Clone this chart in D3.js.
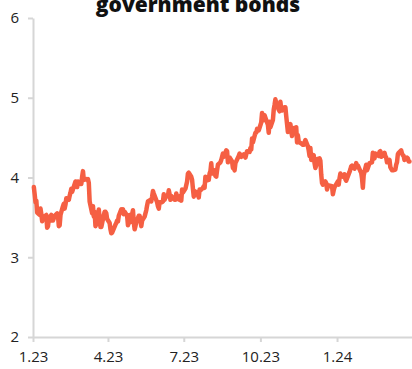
<!DOCTYPE html>
<html>
<head>
<meta charset="utf-8">
<script src="https://cdn.jsdelivr.net/npm/d3@7"></script>
<style>
  body { margin: 0; background: #fff; }
  svg { display: block; }
  .axis path, .axis line { stroke: #d6d6d6; stroke-width: 2; }
  .axis text { fill: #222; font-family: "Open Sans", sans-serif; font-size: 15px; }
</style>
</head>
<body>
<div id="chart"></div>
<script>
// yield data, one array per month (trading days + closes)
var months = ["2023-01", "2023-02", "2023-03", "2023-04", "2023-05", "2023-06", "2023-07", "2023-08",
              "2023-09", "2023-10", "2023-11", "2023-12", "2024-01", "2024-02", "2024-03"];

var days = [
  [2, 3, 4, 5, 6, 9, 10, 11, 12, 13, 17, 18, 19, 20, 23, 24, 25, 26, 27, 30, 31],
  [1, 2, 3, 6, 7, 8, 9, 10, 13, 14, 15, 16, 17, 21, 22, 23, 24, 27, 28],
  [1, 2, 3, 6, 7, 8, 9, 10, 13, 14, 15, 16, 17, 20, 21, 22, 23, 24, 27, 28, 29, 30, 31],
  [3, 4, 5, 6, 10, 11, 12, 13, 14, 17, 18, 19, 20, 21, 24, 25, 26, 27, 28],
  [1, 2, 3, 4, 5, 8, 9, 10, 11, 12, 15, 16, 17, 18, 19, 22, 23, 24, 25, 26, 30, 31],
  [1, 2, 5, 6, 7, 8, 9, 12, 13, 14, 15, 16, 20, 21, 22, 23, 26, 27, 28, 29, 30],
  [3, 5, 6, 7, 10, 11, 12, 13, 14, 17, 18, 19, 20, 21, 24, 25, 26, 27, 28, 31],
  [1, 2, 3, 4, 7, 8, 9, 10, 11, 14, 15, 16, 17, 18, 21, 22, 23, 24, 25, 28, 29, 30, 31],
  [1, 5, 6, 7, 8, 11, 12, 13, 14, 15, 18, 19, 20, 21, 22, 25, 26, 27, 28, 29],
  [2, 3, 4, 5, 6, 10, 11, 12, 13, 16, 17, 18, 19, 20, 23, 24, 25, 26, 27, 30, 31],
  [1, 2, 3, 6, 7, 8, 9, 10, 13, 14, 15, 16, 17, 20, 21, 22, 24, 27, 28, 29, 30],
  [1, 4, 5, 6, 7, 8, 11, 12, 13, 14, 15, 18, 19, 20, 21, 22, 26, 27, 28, 29],
  [2, 3, 4, 5, 8, 9, 10, 11, 12, 16, 17, 18, 19, 22, 23, 24, 25, 26, 29, 30, 31],
  [1, 2, 5, 6, 7, 8, 9, 12, 13, 14, 15, 16, 20, 21, 22, 23, 26, 27, 28, 29],
  [1, 4, 5, 6, 7, 8, 11, 12, 13, 14, 15, 18, 19, 20, 21, 22, 25, 26, 27, 28]
];

var yields = [
  [3.88, 3.79, 3.69, 3.71, 3.56, 3.53, 3.61, 3.54, 3.45, 3.50, 3.53, 3.37, 3.39, 3.48, 3.53, 3.46, 3.46, 3.49, 3.52, 3.55, 3.52],
  [3.39, 3.40, 3.53, 3.64, 3.67, 3.61, 3.66, 3.74, 3.72, 3.77, 3.81, 3.86, 3.82, 3.95, 3.92, 3.88, 3.95, 3.92, 3.92],
  [4.01, 4.08, 3.97, 3.98, 3.97, 3.98, 3.93, 3.70, 3.55, 3.64, 3.51, 3.57, 3.39, 3.47, 3.60, 3.48, 3.38, 3.38, 3.53, 3.57, 3.57, 3.55, 3.48],
  [3.43, 3.35, 3.30, 3.31, 3.41, 3.43, 3.46, 3.45, 3.52, 3.60, 3.59, 3.60, 3.54, 3.57, 3.52, 3.40, 3.45, 3.53, 3.44],
  [3.59, 3.44, 3.35, 3.39, 3.44, 3.52, 3.52, 3.45, 3.39, 3.46, 3.51, 3.55, 3.59, 3.65, 3.70, 3.72, 3.70, 3.76, 3.83, 3.80, 3.69, 3.64],
  [3.61, 3.69, 3.69, 3.70, 3.79, 3.72, 3.75, 3.77, 3.84, 3.79, 3.72, 3.77, 3.72, 3.72, 3.80, 3.74, 3.72, 3.77, 3.71, 3.85, 3.81],
  [3.86, 3.95, 4.05, 4.06, 4.01, 3.97, 3.86, 3.76, 3.83, 3.81, 3.78, 3.75, 3.85, 3.84, 3.87, 3.89, 3.87, 4.01, 3.96, 3.97],
  [4.05, 4.08, 4.18, 4.05, 4.09, 4.02, 4.01, 4.09, 4.16, 4.19, 4.22, 4.26, 4.30, 4.26, 4.34, 4.33, 4.19, 4.23, 4.25, 4.20, 4.12, 4.12, 4.09],
  [4.18, 4.27, 4.30, 4.27, 4.26, 4.29, 4.27, 4.25, 4.29, 4.33, 4.32, 4.37, 4.35, 4.49, 4.44, 4.56, 4.56, 4.61, 4.59, 4.59],
  [4.69, 4.81, 4.73, 4.72, 4.78, 4.66, 4.56, 4.70, 4.63, 4.72, 4.85, 4.91, 4.98, 4.93, 4.85, 4.83, 4.95, 4.86, 4.84, 4.88, 4.88],
  [4.77, 4.67, 4.57, 4.67, 4.58, 4.52, 4.62, 4.61, 4.63, 4.44, 4.53, 4.45, 4.44, 4.42, 4.41, 4.41, 4.47, 4.39, 4.34, 4.27, 4.37],
  [4.22, 4.28, 4.18, 4.12, 4.15, 4.23, 4.24, 4.21, 4.04, 3.93, 3.91, 3.95, 3.93, 3.85, 3.89, 3.90, 3.89, 3.79, 3.84, 3.88],
  [3.95, 3.91, 3.99, 4.05, 4.01, 4.02, 4.04, 3.98, 3.96, 4.07, 4.10, 4.14, 4.15, 4.11, 4.14, 4.18, 4.14, 4.15, 4.08, 4.06, 3.99],
  [3.87, 4.03, 4.16, 4.09, 4.12, 4.15, 4.18, 4.19, 4.31, 4.27, 4.24, 4.30, 4.27, 4.32, 4.33, 4.26, 4.28, 4.31, 4.27, 4.25],
  [4.19, 4.22, 4.13, 4.11, 4.09, 4.09, 4.10, 4.16, 4.19, 4.29, 4.31, 4.34, 4.30, 4.28, 4.27, 4.22, 4.25, 4.24, 4.20, 4.20]
];

var yTicks = [2, 3, 4, 5, 6];
var xTicks = ["2023-01-01", "2023-04-01", "2023-07-01", "2023-10-01", "2024-01-01"];
var titleText = "government bonds";

var parseDate = d3.timeParse("%Y-%m-%d");

var data = [];
months.forEach(function (m, i) {
    days[i].forEach(function (d, j) {
        data.push({ date: parseDate(m + "-" + (d < 10 ? "0" + d : d)), value: yields[i][j] });
    });
});

var svgWidth = 412;
var svgHeight = 369;
var margin = { top: 18, right: 0, bottom: 32, left: 33 };

var svg = d3.select("#chart")
    .append("svg")
    .attr("width", svgWidth)
    .attr("height", svgHeight);

var x = d3.scaleTime()
    .domain([parseDate("2023-01-01"), parseDate("2024-03-31")])
    .range([margin.left, svgWidth - margin.right]);

var y = d3.scaleLinear()
    .domain([2, 6])
    .range([svgHeight - margin.bottom, margin.top]);

// y axis
svg.append("g")
    .attr("class", "axis")
    .attr("transform", "translate(" + margin.left + ",0)")
    .call(d3.axisLeft(y).tickValues(yTicks).tickFormat(d3.format("d"))
        .tickSize(5).tickSizeOuter(0).tickPadding(9));

// x axis
svg.append("g")
    .attr("class", "axis")
    .attr("transform", "translate(0," + (svgHeight - margin.bottom) + ")")
    .call(d3.axisBottom(x)
        .tickValues(xTicks.map(parseDate))
        .tickFormat(d3.timeFormat("%-m.%y"))
        .tickSize(5).tickSizeOuter(0).tickPadding(9));

// line
var line = d3.line()
    .x(function (d) { return x(d.date); })
    .y(function (d) { return y(d.value); });

svg.append("path")
    .datum(data)
    .attr("fill", "none")
    .attr("stroke", "#f55f43")
    .attr("stroke-width", 4.5)
    .attr("stroke-linejoin", "round")
    .attr("stroke-linecap", "round")
    .attr("d", line);

// title (top line is cut off)
svg.append("text")
    .attr("x", 198)
    .attr("y", 12)
    .attr("text-anchor", "middle")
    .style("font-family", "'Open Sans', sans-serif")
    .style("font-size", "21px")
    .style("font-weight", "800")
    .style("fill", "#111")
    .text(titleText);
</script>
</body>
</html>
